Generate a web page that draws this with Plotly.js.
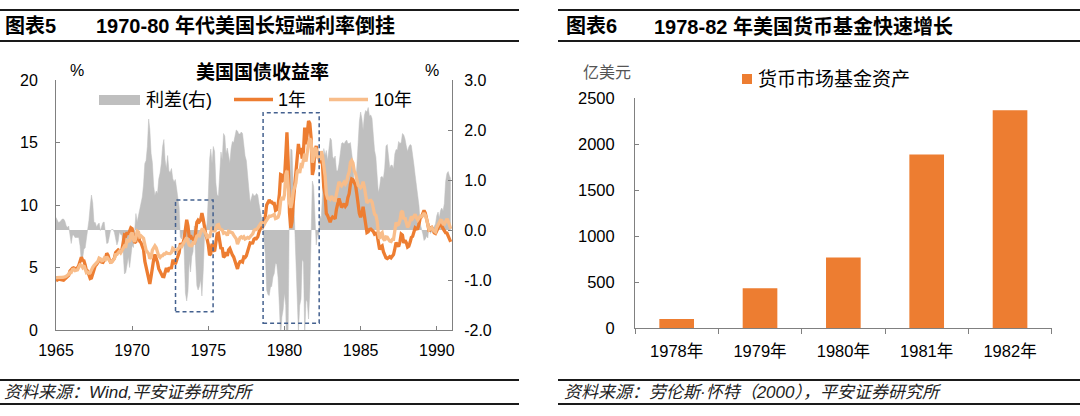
<!DOCTYPE html>
<html><head><meta charset="utf-8">
<script src="https://cdn.plot.ly/plotly-3.0.1.min.js"></script>
<style>html,body{margin:0;padding:0;background:#fff;}#chart{width:1080px;height:416px;}</style>
</head><body><div id="chart"></div>
<script>
// ---- Data (monthly, Jan 1965 - Dec 1990) ----
const startYear = 1965;
const yield1y = [
3.94,4.03,4.06,4.04,4.03,3.99,3.98,4.07,4.20,4.30,4.37,4.72,
4.88,4.94,4.97,4.90,4.93,4.97,5.17,5.54,5.82,5.58,5.54,5.20,
4.75,4.71,4.35,4.11,4.15,4.48,5.01,5.13,5.24,5.37,5.61,5.71,
5.43,5.41,5.58,5.71,6.14,5.98,5.65,5.43,5.45,5.57,5.75,6.19,
6.34,6.41,6.34,6.26,6.42,7.04,7.60,7.54,7.82,7.64,7.89,8.17,
8.10,7.59,6.97,7.06,7.75,7.55,7.10,6.98,6.73,6.43,5.51,5.00,
4.57,3.89,3.69,4.30,5.04,5.64,6.04,5.80,5.41,4.91,4.67,4.60,
4.28,4.27,4.67,4.96,4.64,4.93,4.96,4.98,5.52,5.52,5.27,5.52,
5.89,6.19,6.85,6.85,6.89,7.31,8.39,8.82,8.31,7.40,7.57,7.27,
7.42,6.88,7.76,8.62,8.78,8.67,8.80,9.36,8.87,8.05,7.66,7.31,
6.83,5.98,6.11,6.90,6.39,6.29,7.11,7.70,7.75,6.95,6.49,6.60,
5.81,5.91,6.21,5.92,6.40,6.52,6.20,6.00,5.84,5.50,5.29,4.89,
5.29,5.47,5.50,5.44,5.84,5.80,5.94,6.37,6.53,6.97,6.95,6.96,
7.28,7.34,7.31,7.45,7.82,8.09,8.39,8.31,8.64,9.14,10.01,10.30,
10.41,10.24,10.25,10.12,10.12,9.57,9.64,9.98,10.84,12.44,12.39,11.98,
12.06,13.92,15.82,13.30,9.39,8.16,8.65,10.24,11.52,12.49,14.15,14.88,
14.08,14.57,13.71,14.32,16.20,14.86,15.72,16.72,16.52,15.38,12.41,12.85,
14.32,14.73,13.95,13.98,13.34,14.07,13.24,11.43,10.85,9.32,9.16,8.91,
8.62,8.92,9.04,8.98,8.90,9.66,10.20,10.53,10.16,9.81,9.94,10.11,
9.90,10.04,10.59,10.90,11.66,12.08,12.03,11.82,11.58,10.90,9.82,9.33,
9.02,9.29,9.86,9.14,8.46,7.80,7.86,8.05,8.07,8.01,7.88,7.67,
7.73,7.61,7.03,6.44,6.65,6.73,6.27,5.93,5.77,5.72,5.80,5.87,
5.78,5.96,6.03,6.50,7.00,6.80,6.68,7.03,7.67,7.59,6.96,7.17,
6.99,6.64,6.71,7.01,7.40,7.49,7.75,8.17,8.09,8.11,8.48,8.99,
9.05,9.25,9.57,9.36,8.98,8.44,7.89,8.18,8.22,7.99,7.77,7.72,
7.92,8.11,8.35,8.40,8.32,8.10,7.94,7.78,7.76,7.55,7.31,7.05
];
const yield10y = [
4.19,4.21,4.21,4.20,4.21,4.21,4.20,4.25,4.29,4.35,4.45,4.62,
4.61,4.83,4.87,4.75,4.78,4.81,5.02,5.22,5.18,5.01,5.16,4.84,
4.58,4.63,4.54,4.59,4.85,5.02,5.16,5.28,5.30,5.48,5.75,5.70,
5.53,5.56,5.74,5.64,5.87,5.72,5.50,5.42,5.46,5.58,5.70,6.03,
6.04,6.19,6.30,6.17,6.32,6.57,6.72,6.69,7.16,7.10,7.14,7.65,
7.79,7.24,7.07,7.39,7.91,7.84,7.46,7.53,7.39,7.33,6.84,6.39,
6.24,6.11,5.70,5.83,6.39,6.52,6.73,6.58,6.14,5.93,5.81,5.93,
5.95,6.08,6.07,6.19,6.13,6.11,6.11,6.21,6.55,6.48,6.28,6.36,
6.46,6.64,6.71,6.67,6.85,6.90,7.13,7.40,7.09,6.79,6.73,6.74,
6.99,6.96,7.21,7.51,7.58,7.54,7.81,8.04,8.04,7.90,7.68,7.43,
7.50,7.39,7.73,8.23,8.06,7.86,8.06,8.40,8.43,8.14,8.05,8.00,
7.74,7.79,7.73,7.56,7.90,7.86,7.83,7.77,7.59,7.41,7.29,6.87,
7.21,7.39,7.46,7.37,7.46,7.28,7.33,7.40,7.34,7.52,7.58,7.69,
7.96,8.03,8.04,8.15,8.35,8.46,8.64,8.41,8.42,8.64,8.81,9.01,
9.10,9.10,9.12,9.18,9.25,8.91,8.95,9.03,9.33,10.30,10.65,10.39,
10.80,12.41,12.75,11.47,10.18,9.78,10.25,11.10,11.51,11.75,12.68,12.84,
12.57,13.19,13.12,13.68,14.10,13.47,14.28,14.94,15.32,15.15,13.39,13.72,
14.59,14.43,13.86,13.87,13.62,14.30,13.95,13.06,12.34,10.91,10.55,10.54,
10.46,10.72,10.51,10.40,10.38,10.85,11.38,11.85,11.65,11.54,11.69,11.83,
11.67,11.84,12.32,12.63,13.41,13.56,13.36,12.72,12.52,12.16,11.57,11.50,
11.38,11.51,11.86,11.43,10.85,10.16,10.31,10.33,10.37,10.24,9.78,9.26,
9.19,8.70,7.78,7.30,7.71,7.80,7.30,7.17,7.45,7.43,7.25,7.11,
7.08,7.25,7.25,8.02,8.61,8.40,8.45,8.76,9.42,9.52,8.86,8.99,
8.67,8.21,8.37,8.72,9.09,8.92,9.06,9.26,8.98,8.80,8.96,9.11,
9.09,9.17,9.36,9.18,8.86,8.28,8.02,8.11,8.19,8.01,7.87,7.84,
8.21,8.47,8.59,8.79,8.76,8.48,8.47,8.75,8.89,8.72,8.39,8.08
];
const spread = [
0.25,0.18,0.15,0.16,0.18,0.22,0.22,0.18,0.09,0.05,0.08,-0.10,
-0.27,-0.11,-0.10,-0.15,-0.15,-0.16,-0.15,-0.32,-0.64,-0.57,-0.38,-0.36,
-0.17,-0.08,0.19,0.48,0.70,0.54,0.15,0.15,0.06,0.11,0.14,-0.01,
0.10,0.15,0.16,-0.07,-0.27,-0.26,-0.15,-0.01,0.01,0.01,-0.05,-0.16,
-0.30,-0.22,-0.04,-0.09,-0.10,-0.47,-0.88,-0.85,-0.66,-0.54,-0.75,-0.52,
-0.31,-0.35,0.10,0.33,0.16,0.29,0.36,0.55,0.66,0.90,1.33,1.39,
1.67,2.22,2.01,1.53,1.35,0.88,0.69,0.78,0.73,1.02,1.14,1.33,
1.67,1.81,1.40,1.23,1.49,1.18,1.15,1.23,1.03,0.96,1.01,0.84,
0.57,0.45,-0.14,-0.18,-0.04,-0.41,-1.26,-1.42,-1.22,-0.61,-0.84,-0.53,
-0.43,0.08,-0.55,-1.11,-1.20,-1.13,-0.99,-1.32,-0.83,-0.15,0.02,0.12,
0.67,1.41,1.62,1.33,1.67,1.57,0.95,0.70,0.68,1.19,1.56,1.40,
1.93,1.88,1.52,1.64,1.50,1.34,1.63,1.77,1.75,1.91,2.00,1.98,
1.92,1.92,1.96,1.93,1.62,1.48,1.39,1.03,0.81,0.55,0.63,0.73,
0.68,0.69,0.73,0.70,0.53,0.37,0.25,0.10,-0.22,-0.50,-1.20,-1.29,
-1.31,-1.14,-1.13,-0.94,-0.87,-0.66,-0.69,-0.95,-1.51,-2.14,-1.74,-1.59,
-1.26,-1.51,-3.07,-1.83,0.79,1.62,1.60,0.86,-0.01,-0.74,-1.47,-2.04,
-1.51,-1.38,-0.59,-0.64,-2.10,-1.39,-1.44,-1.78,-1.20,-0.23,0.98,0.87,
0.27,-0.30,-0.09,-0.11,0.28,0.23,0.71,1.63,1.49,1.59,1.39,1.63,
1.84,1.80,1.47,1.42,1.48,1.19,1.18,1.32,1.49,1.73,1.75,1.72,
1.77,1.80,1.73,1.73,1.75,1.48,1.33,0.90,0.94,1.26,1.75,2.17,
2.36,2.22,2.00,2.29,2.39,2.36,2.45,2.28,2.30,2.23,1.90,1.59,
1.46,1.09,0.75,0.86,1.06,1.07,1.03,1.24,1.68,1.71,1.45,1.24,
1.30,1.29,1.22,1.52,1.61,1.60,1.77,1.73,1.75,1.93,1.90,1.82,
1.68,1.57,1.66,1.71,1.69,1.43,1.31,1.09,0.89,0.69,0.48,0.12,
0.04,-0.08,-0.21,-0.18,-0.12,-0.16,0.13,-0.07,-0.03,0.02,0.10,0.12,
0.29,0.36,0.24,0.39,0.44,0.38,0.53,0.97,1.13,1.17,1.08,1.03
];
const xTickYears = [1965, 1970, 1975, 1980, 1985, 1990];
const leftTickVals = [0, 5, 10, 15, 20];
const rightTickVals = [-2, -1, 0, 1, 2, 3];

const mmfCategories = ['1978年', '1979年', '1980年', '1981年', '1982年'];
const mmfAssets = [100, 435, 770, 1890, 2370];
const mmfTickVals = [0, 500, 1000, 1500, 2000, 2500];

// ---- build ----
const months = yield1y.map((_, i) => {
  const y = startYear + Math.floor(i / 12), m = (i % 12) + 1;
  return y + '-' + String(m).padStart(2, '0') + '-01';
});

const W = 1080, H = 416;
const px = x => x / W, py = y => 1 - y / H;
const FONT = 'Liberation Sans, Arial, Noto Sans CJK SC, sans-serif';
const AX = '#808080';

const traces = [
  { type: 'scatter', mode: 'lines', name: '利差(右)', x: months, y: spread, xaxis: 'x', yaxis: 'y',
    fill: 'tozeroy', fillcolor: '#BFBFBF', line: { color: '#BFBFBF', width: 0.5 }, hoverinfo: 'skip' },
  { type: 'scatter', mode: 'lines', name: '1年', x: months, y: yield1y, xaxis: 'x', yaxis: 'y2',
    line: { color: '#ED7D31', width: 3.3 } },
  { type: 'scatter', mode: 'lines', name: '10年', x: months, y: yield10y, xaxis: 'x', yaxis: 'y2',
    line: { color: '#F8BD8A', width: 3.3 } },
  { type: 'bar', name: '货币市场基金资产', x: mmfCategories, y: mmfAssets, xaxis: 'x2', yaxis: 'y3',
    marker: { color: '#ED7D31' } }
];

const axCommon = { showline: true, linecolor: AX, linewidth: 1, showgrid: false, zeroline: false,
  tickcolor: AX, ticklen: 4, tickfont: { size: 16, color: '#000' }, fixedrange: true };

function hline(x0, x1, y, w, color, dash) {
  return { type: 'line', xref: 'paper', yref: 'paper', x0: px(x0), x1: px(x1), y0: py(y), y1: py(y),
    line: { color: color, width: w, dash: dash || 'solid' } };
}
function ann(text, x, y, opts) {
  return Object.assign({ text: text, x: px(x), y: py(y), xref: 'paper', yref: 'paper', showarrow: false,
    xanchor: 'left', yanchor: 'middle', font: { size: 16, color: '#000' } }, opts || {});
}

const shapes = [
  hline(0, 519, 10, 2, '#1a1a1a'), hline(0, 519, 41, 2, '#1a1a1a'),
  hline(558, 1080, 10, 2, '#1a1a1a'), hline(558, 1080, 41, 2, '#1a1a1a'),
  hline(0, 519, 380, 2, '#1a1a1a'), hline(0, 519, 404, 2, '#1a1a1a'),
  hline(558, 1080, 380, 2, '#1a1a1a'), hline(558, 1080, 404, 2, '#1a1a1a'),
  // highlight boxes (data coordinates)
  { type: 'rect', xref: 'x', yref: 'y2', x0: '1972-11-06', x1: '1975-04-26', y0: 1.46, y1: 10.4,
    line: { color: '#44618F', width: 1.5, dash: '4px,3px' } },
  { type: 'rect', xref: 'x', yref: 'y2', x0: '1978-08-07', x1: '1982-04-13', y0: 0.54, y1: 17.38,
    line: { color: '#44618F', width: 1.5, dash: '4px,3px' } },
  // legend symbols, left chart
  { type: 'rect', xref: 'paper', yref: 'paper', x0: px(99), x1: px(140), y0: py(105), y1: py(95),
    fillcolor: '#BFBFBF', line: { width: 0 } },
  hline(234, 273, 99.5, 3.3, '#ED7D31'),
  hline(329, 368, 99.5, 3.3, '#F8BD8A'),
  // legend symbol, right chart
  { type: 'rect', xref: 'paper', yref: 'paper', x0: px(742), x1: px(752), y0: py(84), y1: py(74),
    fillcolor: '#ED7D31', line: { width: 0 } }
];

const TF = { size: 20, color: '#000' };
const FF = { size: 17, color: '#222', style: 'italic' };
const annotations = [
  ann('<b>图表5</b>', 3, 26, { font: TF }),
  ann('<b>1970-80 年代美国长短端利率倒挂</b>', 94, 26, { font: TF }),
  ann('<b>图表6</b>', 564, 26, { font: TF }),
  ann('<b>1978-82 年美国货币基金快速增长</b>', 652, 26, { font: TF }),
  ann('<b>美国国债收益率</b>', 262, 72, { xanchor: 'center', font: { size: 19, color: '#000' } }),
  ann('%', 77, 71, { xanchor: 'center' }),
  ann('%', 432, 71, { xanchor: 'center' }),
  ann('利差(右)', 144, 100, { font: { size: 18, color: '#000' } }),
  ann('1年', 276, 100, { font: { size: 18, color: '#000' } }),
  ann('10年', 372, 100, { font: { size: 18, color: '#000' } }),
  ann('亿美元', 581, 72, { font: { size: 16, color: '#555' } }),
  ann('货币市场基金资产', 756, 79, { font: { size: 19, color: '#000' } }),
  ann('资料来源：Wind,平安证券研究所', 2, 392, { font: FF }),
  ann('资料来源：劳伦斯·怀特（2000），平安证券研究所', 562, 392, { font: FF })
];

const layout = {
  width: W, height: H, margin: { l: 0, r: 0, t: 0, b: 0, pad: 0 },
  paper_bgcolor: '#fff', plot_bgcolor: 'rgba(0,0,0,0)', showlegend: false,
  font: { family: FONT, size: 16, color: '#000' },
  bargap: 0.584,
  xaxis: Object.assign({}, axCommon, {
    type: 'date', domain: [px(56), px(452)], anchor: 'y',
    range: ['1965-01-01', '1991-01-01'],
    tickvals: xTickYears.map(y => y + '-01-01'), ticktext: xTickYears.map(String),
    ticks: 'inside', ticklabelstandoff: 6
  }),
  yaxis: Object.assign({}, axCommon, {
    domain: [py(330), py(80)], anchor: 'x', side: 'right', range: [-2, 3],
    tickvals: rightTickVals, ticktext: rightTickVals.map(v => v.toFixed(1)),
    ticks: 'inside', ticklabelstandoff: 8
  }),
  yaxis2: Object.assign({}, axCommon, {
    overlaying: 'y', anchor: 'x', side: 'left', range: [0, 20],
    tickvals: leftTickVals, ticktext: leftTickVals.map(String),
    ticks: 'inside', ticklabelstandoff: 14
  }),
  xaxis2: Object.assign({}, axCommon, {
    type: 'category', domain: [px(635), px(1051.7)], anchor: 'y3',
    tickson: 'boundaries', ticks: 'outside', ticklen: 5, ticklabelstandoff: 8,
    tickfont: { size: 16.5, color: '#000' }
  }),
  yaxis3: Object.assign({}, axCommon, {
    domain: [py(328.3), py(98.3)], anchor: 'x2', range: [0, 2500],
    tickvals: mmfTickVals, ticktext: mmfTickVals.map(String),
    ticks: 'inside', ticklabelstandoff: 16, tickfont: { size: 16.5, color: '#000' }
  }),
  shapes: shapes,
  annotations: annotations
};

Plotly.newPlot('chart', traces, layout, { staticPlot: true, displayModeBar: false });
</script>
</body></html>
